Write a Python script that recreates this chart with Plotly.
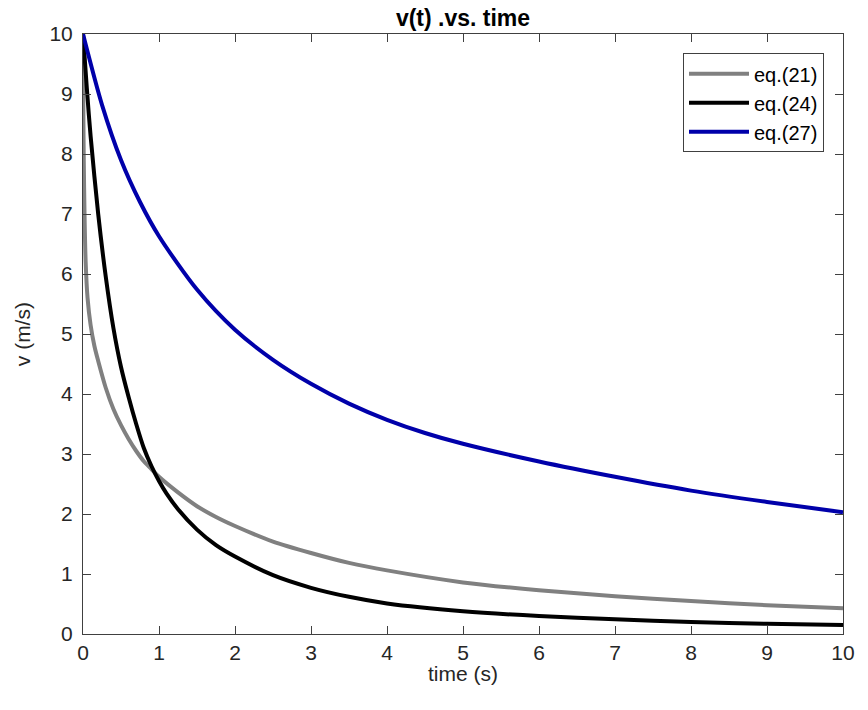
import plotly.graph_objects as go

# eq.(21) - gray
t_eq21 = [0, 0.005, 0.01, 0.02, 0.035, 0.06, 0.1, 0.15, 0.2, 0.3, 0.4, 0.5, 0.6, 0.7, 0.8, 0.9, 1.0,
          1.25, 1.5, 1.75, 2.0, 2.5, 3.0, 3.5, 4, 5, 6, 7, 8, 9, 10]
v_eq21 = [10, 8.6, 7.9, 7.0, 6.2, 5.6, 5.15, 4.8, 4.55, 4.1, 3.75, 3.48, 3.25, 3.05, 2.88, 2.75, 2.62,
          2.36, 2.13, 1.95, 1.8, 1.54, 1.35, 1.185, 1.06, 0.86, 0.73, 0.63, 0.55, 0.48, 0.43]

# eq.(24) - black
t_eq24 = [0, 0.05, 0.1, 0.2, 0.3, 0.4, 0.5, 0.6, 0.7, 0.8, 0.9, 1.0, 1.1, 1.25, 1.5, 1.75, 2.0,
          2.5, 3.0, 3.5, 4, 5, 6, 7, 8, 9, 10]
v_eq24 = [10, 9.1, 8.3, 7.0, 5.95, 5.1, 4.45, 3.95, 3.5, 3.1, 2.8, 2.55, 2.34, 2.08, 1.74, 1.48, 1.29,
          0.98, 0.77, 0.62, 0.51, 0.38, 0.3, 0.245, 0.2, 0.17, 0.15]

# eq.(27) - blue
t_eq27 = [0, 0.25, 0.5, 0.75, 1.0, 1.5, 2.0, 2.5, 3.0, 3.5, 4.0, 4.5, 5.0, 6.0, 7.0, 8.0, 9.0, 10]
v_eq27 = [10, 8.82, 7.9, 7.2, 6.63, 5.74, 5.07, 4.57, 4.17, 3.84, 3.57, 3.35, 3.17, 2.875, 2.62,
          2.39, 2.2, 2.03]

tick_vals = list(range(0, 11))

FONT = 'Liberation Sans, Arial'

fig = go.Figure()
fig.add_trace(go.Scatter(x=t_eq21, y=v_eq21, mode='lines', name='eq.(21)',
                         line=dict(color='#808080', width=4, shape='spline', smoothing=0.8)))
fig.add_trace(go.Scatter(x=t_eq24, y=v_eq24, mode='lines', name='eq.(24)',
                         line=dict(color='#000000', width=4, shape='spline', smoothing=0.8)))
fig.add_trace(go.Scatter(x=t_eq27, y=v_eq27, mode='lines', name='eq.(27)',
                         line=dict(color='#0000AA', width=4, shape='spline', smoothing=0.8)))

axis_common = dict(
    showgrid=False, zeroline=False, showline=True, linecolor='#404040', linewidth=1,
    mirror='ticks', ticks='inside', ticklen=8, tickcolor='#404040',
    tickfont=dict(family=FONT, size=21, color='#262626'),
    tickvals=tick_vals, automargin=False,
)

fig.update_layout(
    width=868, height=710,
    paper_bgcolor='white', plot_bgcolor='white',
    margin=dict(l=83, r=25, t=34, b=76),
    title=dict(text='<b>v(t) .vs. time</b>', x=0.5, xanchor='center', y=0.975, yanchor='middle',
               xref='paper',
               font=dict(family=FONT, size=23, color='#000000')),
    xaxis=dict(range=[0, 10], **axis_common),
    yaxis=dict(range=[0, 10], ticklabelstandoff=5, **axis_common),
    legend=dict(x=0.975, y=0.968, xanchor='right', yanchor='top',
                bgcolor='white', bordercolor='#404040', borderwidth=1,
                font=dict(family=FONT, size=20, color='#000000'),
                tracegroupgap=0, itemwidth=60),
    showlegend=True,
    annotations=[
        dict(text='time (s)', xref='paper', yref='paper', x=0.5, y=-0.065,
             xanchor='center', yanchor='middle', showarrow=False,
             font=dict(family=FONT, size=21, color='#262626')),
        dict(text='v (m/s)', xref='paper', yref='paper', x=-0.08, y=0.5,
             xanchor='center', yanchor='middle', showarrow=False, textangle=-90,
             font=dict(family=FONT, size=21, color='#262626')),
    ],
)

fig.write_html("out.html", config={'displayModeBar': False},
               post_script="document.body.style.margin='0';")
